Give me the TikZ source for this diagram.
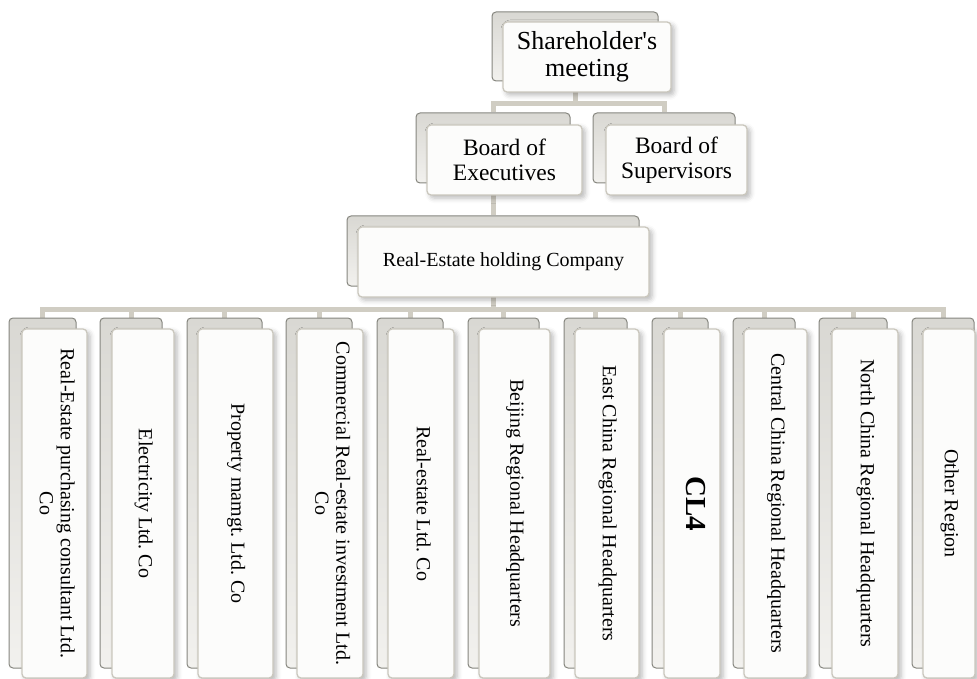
\documentclass[tikz,border=0pt]{standalone}
\usepackage{fontspec}
\setmainfont{Liberation Serif}
\usepackage{graphicx}
\usetikzlibrary{shadows.blur,calc}

\definecolor{connc}{HTML}{D0CDC3}
\definecolor{backedge}{HTML}{86867F}
\definecolor{backtop}{HTML}{D9D8D3}
\definecolor{backbot}{HTML}{F2F1EE}
\definecolor{frontedge}{HTML}{CAC7BD}
\definecolor{frontfill}{HTML}{FCFCFB}

\pgfdeclarelayer{bg}
\pgfsetlayers{bg,main}

\tikzset{
  conn/.style={draw=connc, line width=5pt},
  backcard/.style={draw=backedge, line width=1pt, rounded corners=4pt,
    top color=backtop, bottom color=backbot, inner sep=0pt},
  frontcard/.style={draw=frontedge, line width=1.3pt, rounded corners=4pt,
    fill=frontfill, inner sep=0pt, text=black,
    blur shadow={shadow xshift=3pt, shadow yshift=-3pt,
      shadow blur radius=5pt, shadow opacity=28}},
  lvlone/.style={font=\fontsize{26}{27}\selectfont, align=center},
  lvltwo/.style={font=\fontsize{23.5}{24.5}\selectfont, align=center},
  lvlthree/.style={font=\fontsize{20}{21}\selectfont, align=center},
}

% back card: name, x1, y1, x2, y2 (pixel units, y downwards)
\newcommand\backcard[5]{%
  \node[backcard, minimum width={(#4-#2)*1pt}, minimum height={(#5-#3)*1pt}]
    (#1) at ({(#2+#4)/2},{(#3+#5)/2}) {};}
% front card: name, x1, y1, x2, y2, style, text
\newcommand\frontcard[7]{%
  \node[frontcard, #6, minimum width={(#4-#2)*1pt}, minimum height={(#5-#3)*1pt}]
    (#1) at ({(#2+#4)/2},{(#3+#5)/2}) {#7};}
\newcommand\vtext[1]{\rotatebox{-90}{\begin{tabular}{@{}c@{}}#1\end{tabular}}}

\begin{document}
\begin{tikzpicture}[x=1pt,y=-1pt]
\useasboundingbox (0,0) rectangle (977,679);

% top level
\backcard{shareB}{492}{12}{658}{81}
\frontcard{share}{503}{22}{671}{92}{lvlone}{Shareholder\textquotesingle s\\meeting}

% boards
\backcard{execB}{416}{113}{570}{183}
\frontcard{exec}{427}{125}{582}{195}{lvltwo}{Board of\\Executives}
\backcard{supB}{593}{113}{735}{183}
\frontcard{sup}{606}{125}{747}{195}{lvltwo}{Board of\\Supervisors}

% holding company
\backcard{holdB}{347}{216}{639}{286}
\frontcard{hold}{358}{227}{649}{297}{lvlthree}{Real-Estate holding Company}

% subsidiaries and regions
\backcard{b1B}{9}{318}{76}{668}
\frontcard{b1}{22}{329}{87}{678}{lvlthree}{\vtext{Real-Estate purchasing consultant Ltd.\\Co}}
\backcard{b2B}{100}{318}{162}{668}
\frontcard{b2}{112}{329}{174}{678}{lvlthree}{\vtext{Electricity Ltd.\ Co}}
\backcard{b3B}{187}{318}{262}{668}
\frontcard{b3}{198}{329}{273}{678}{lvlthree}{\vtext{Property mamgt.\ Ltd.\ Co}}
\backcard{b4B}{286}{318}{352}{668}
\frontcard{b4}{297}{329}{363}{678}{lvlthree}{\vtext{Commercial Real-estate investment Ltd.\\Co}}
\backcard{b5B}{377}{318}{443}{668}
\frontcard{b5}{388}{329}{454}{678}{lvlthree}{\vtext{Real-estate Ltd.\ Co}}
\backcard{b6B}{468}{318}{539}{668}
\frontcard{b6}{479}{329}{550}{678}{lvlthree}{\vtext{Beijing Regional Headquarters}}
\backcard{b7B}{564}{318}{627}{668}
\frontcard{b7}{575}{329}{639}{678}{lvlthree}{\vtext{East China Regional Headquarters}}
\backcard{b8B}{652}{318}{708}{668}
\frontcard{b8}{664}{329}{720}{678}{font=\fontsize{29}{30}\selectfont\bfseries}{\vtext{CL4}}
\backcard{b9B}{733}{318}{795}{668}
\frontcard{b9}{744}{329}{807}{678}{lvlthree}{\vtext{Central China Regional Headquarters}}
\backcard{b10B}{819}{318}{887}{668}
\frontcard{b10}{832}{329}{898}{678}{lvlthree}{\vtext{North China Regional Headquarters}}
\backcard{b11B}{912}{318}{974}{668}
\frontcard{b11}{923}{329}{975}{678}{lvlthree}{\vtext{Other Region}}

% connectors, drawn beneath the cards
\coordinate (barA) at (0,104);
\coordinate (barB) at (0,309);
\begin{pgfonlayer}{bg}
  \draw[conn] (shareB.center) -- (shareB.center |- barA) -| (execB.north);
  \draw[conn] (shareB.center |- barA) -| (supB.north);
  \draw[conn] (execB.center) -- (holdB.north);
  \draw[conn] (holdB.center) -- (holdB.center |- barB);
  \foreach \k in {1,...,11}
    \draw[conn] (holdB.center |- barB) -| (b\k B.north);
\end{pgfonlayer}
\end{tikzpicture}
\end{document}
